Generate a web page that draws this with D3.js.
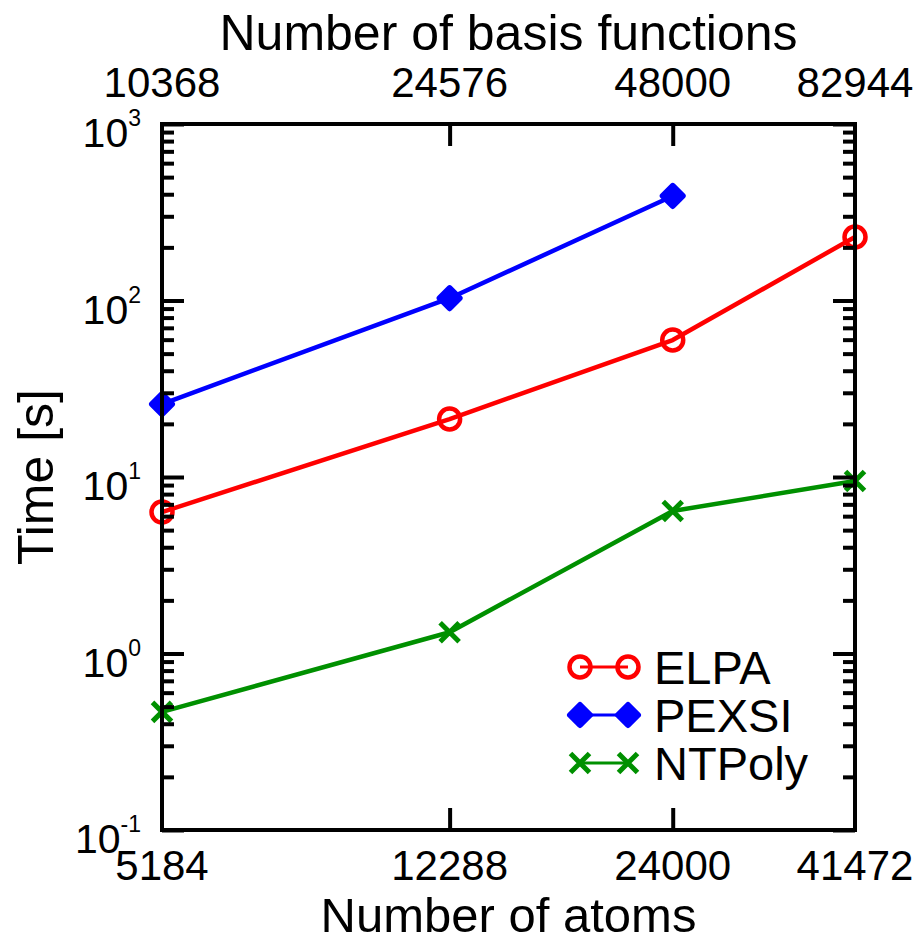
<!DOCTYPE html>
<html><head><meta charset="utf-8">
<script src="https://cdn.jsdelivr.net/npm/d3@7"></script>
<style>body{margin:0;background:#fff}svg{display:block}</style>
</head><body>
<script>
const atoms = [5184, 12288, 24000, 41472];
const basis = [10368, 24576, 48000, 82944];
const elpa = [6.33, 21.3, 59.7, 229];
const pexsi = [25.9, 103, 391];
const ntpoly = [0.467, 1.32, 6.42, 9.49];
const yMajor = [0.1, 1, 10, 100, 1000];
const yMajorLabels = [["10","-1"],["10","0"],["10","1"],["10","2"],["10","3"]];
const seriesNames = ["ELPA", "PEXSI", "NTPoly"];
const colors = {ELPA:"#ff0000", PEXSI:"#0000ff", NTPoly:"#009000"};

const W=919,H=943, L=162,R=855,T=124,B=830;
const font = "'Liberation Sans', Arial, Helvetica, sans-serif";
const svg = d3.select("body").append("svg").attr("width",W).attr("height",H)
  .style("font-family",font);

const x = d3.scaleLog().domain([atoms[0], atoms[atoms.length-1]]).range([L,R]);
const x2 = d3.scaleLog().domain([basis[0], basis[basis.length-1]]).range([L,R]);
const y = d3.scaleLog().domain([0.1,1000]).range([B,T]);

const minor = [];
for (let e=-1;e<3;e++) for (let m=2;m<=9;m++) minor.push(m*Math.pow(10,e));

const line = d3.line().x(d=>x(d[0])).y(d=>y(d[1]));
const series = [
  {name:"ELPA", vals:elpa},
  {name:"PEXSI", vals:pexsi},
  {name:"NTPoly", vals:ntpoly}
];
const g = svg.append("g");
function marker(sel, name, cx, cy){
  const c = colors[name];
  if(name==="ELPA"){
    sel.append("circle").attr("cx",cx).attr("cy",cy).attr("r",10.5)
      .attr("fill","none").attr("stroke",c).attr("stroke-width",4.5);
  } else if(name==="PEXSI"){
    const s=10;
    sel.append("path").attr("d",`M${cx},${cy-s}L${cx+s},${cy}L${cx},${cy+s}L${cx-s},${cy}Z`)
      .attr("fill",c).attr("stroke",c).attr("stroke-width",6).attr("stroke-linejoin","round");
  } else {
    const s=9.5;
    sel.append("path").attr("d",`M${cx-s},${cy-s}L${cx+s},${cy+s}M${cx-s},${cy+s}L${cx+s},${cy-s}`)
      .attr("fill","none").attr("stroke",c).attr("stroke-width",5);
  }
}
series.forEach(s=>{
  const pts = s.vals.map((v,i)=>[atoms[i],v]);
  g.append("path").datum(pts).attr("d",line).attr("fill","none")
    .attr("stroke",colors[s.name]).attr("stroke-width",4.5).attr("stroke-linejoin","round");
  pts.forEach(p=>marker(g, s.name, x(p[0]), y(p[1])));
});

function styleAxis(a){ a.select(".domain").remove(); a.selectAll("line").attr("stroke","#000").attr("stroke-width",4); a.selectAll("text").remove(); }
styleAxis(svg.append("g").attr("transform",`translate(${L},0)`).call(d3.axisLeft(y).tickValues(minor).tickSize(-12)));
styleAxis(svg.append("g").attr("transform",`translate(${L},0)`).call(d3.axisLeft(y).tickValues(yMajor).tickSize(-22)));
styleAxis(svg.append("g").attr("transform",`translate(${R},0)`).call(d3.axisRight(y).tickValues(minor).tickSize(-12)));
styleAxis(svg.append("g").attr("transform",`translate(${R},0)`).call(d3.axisRight(y).tickValues(yMajor).tickSize(-22)));
styleAxis(svg.append("g").attr("transform",`translate(0,${B})`).call(d3.axisBottom(x).tickValues(atoms.slice(1,3)).tickSize(-22)));
styleAxis(svg.append("g").attr("transform",`translate(0,${T})`).call(d3.axisTop(x2).tickValues(basis.slice(1,3)).tickSize(-22)));

svg.append("rect").attr("x",L).attr("y",T).attr("width",R-L).attr("height",B-T)
  .attr("fill","none").attr("stroke","#000").attr("stroke-width",4);

yMajor.forEach((v,i)=>{
  const t = svg.append("text").attr("text-anchor","end").attr("font-size",41)
    .attr("x",141).attr("y",y(v)+23);
  t.append("tspan").text(yMajorLabels[i][0]);
  t.append("tspan").attr("font-size",23).attr("dy",-21).text(yMajorLabels[i][1]);
});
atoms.forEach(v=>{
  svg.append("text").attr("x",x(v)).attr("y",880).attr("text-anchor","middle")
    .attr("font-size",42).text(v);
});
basis.forEach(v=>{
  svg.append("text").attr("x",x2(v)).attr("y",97).attr("text-anchor","middle")
    .attr("font-size",42).text(v);
});

svg.append("text").attr("x",(L+R)/2).attr("y",932).attr("text-anchor","middle")
  .attr("font-size",49).text("Number of atoms");
svg.append("text").attr("x",(L+R)/2).attr("y",50).attr("text-anchor","middle")
  .attr("font-size",50).text("Number of basis functions");
svg.append("text").attr("transform",`translate(53,${(T+B)/2}) rotate(-90)`)
  .attr("text-anchor","middle").attr("font-size",50).text("Time [s]");

const legY = [667, 715, 763];
seriesNames.forEach((n,i)=>{
  const ly = legY[i];
  svg.append("line").attr("x1",580).attr("x2",628).attr("y1",ly).attr("y2",ly)
    .attr("stroke",colors[n]).attr("stroke-width",3);
  marker(svg, n, 580, ly);
  marker(svg, n, 628, ly);
  svg.append("text").attr("x",654).attr("y",ly+17).attr("font-size",47).text(n);
});
</script>
</body></html>
